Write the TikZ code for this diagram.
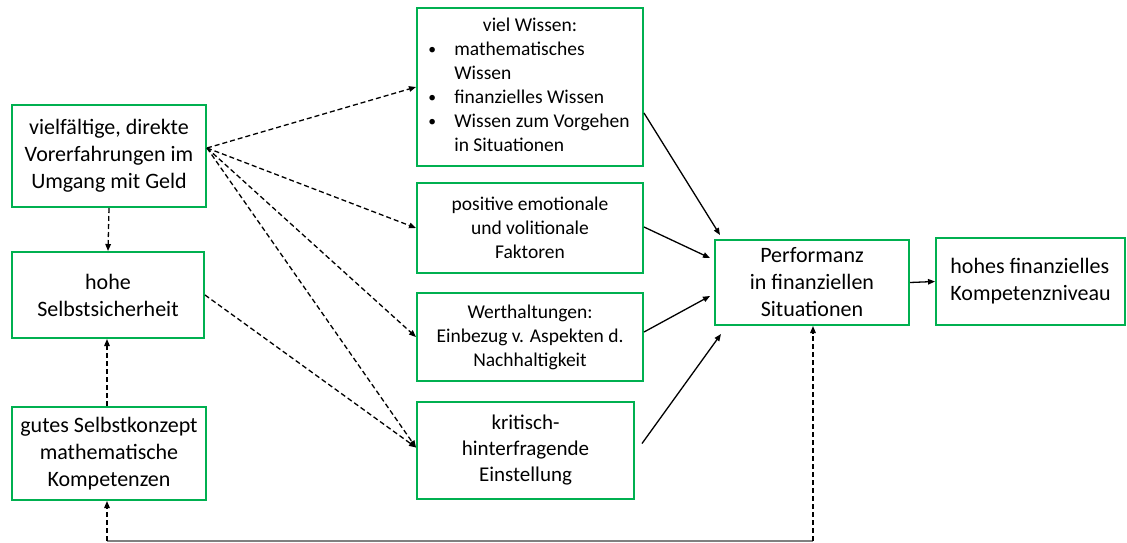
\documentclass[tikz,border=0pt]{standalone}
\usepackage{fontspec}
\setmainfont{Carlito}
\usetikzlibrary{arrows.meta}
\definecolor{boxgreen}{RGB}{0,176,80}
\definecolor{linegray}{RGB}{128,128,128}
\newcommand{\smbul}{\hspace*{-2pt}\raisebox{1pt}{\scalebox{0.8}{\textbullet}}}
\begin{document}
\begin{tikzpicture}[x=1pt,y=-1pt,
 box/.style={draw=boxgreen, line width=2pt, inner sep=0pt, align=center, text=black},
 big/.style={font=\fontsize{22}{27}\selectfont},
 mid/.style={font=\fontsize{21}{26}\selectfont},
 small/.style={font=\fontsize{19.5}{24}\selectfont},
 arr/.style={line width=1.3pt, -{Triangle[length=7pt,width=5.5pt]}},
 darr/.style={arr, dash pattern=on 5pt off 3pt},
]
\useasboundingbox (0,0) rectangle (1127,542);
\node[box,big,minimum width=194pt,minimum height=102pt] (A) at (109,156) {vielfältige, direkte\\Vorerfahrungen im\\Umgang mit Geld};
\node[box,big,minimum width=192pt,minimum height=86pt] (B) at (108,295) {hohe\\Selbstsicherheit};
\node[box,big,minimum width=194pt,minimum height=93pt] (C) at (109,453.5) {gutes Selbstkonzept\\mathematische\\Kompetenzen};
\node[box,small,minimum width=226pt,minimum height=158pt] (D) at (530,87) {\begin{tabular}{@{}p{24pt}@{}l@{}}\multicolumn{2}{@{}c@{}}{viel Wissen:}\\ \smbul & mathematisches\\ & Wissen\\ \smbul & finanzielles Wissen\\ \smbul & Wissen zum Vorgehen\\ & in Situationen\end{tabular}};
\node[box,small,minimum width=226pt,minimum height=90pt] (E) at (530,228) {positive emotionale\\und volitionale\\Faktoren};
\node[box,small,minimum width=226pt,minimum height=88pt] (F) at (530,337) {Werthaltungen:\\Einbezug v. Aspekten d.\\Nachhaltigkeit};
\node[box,mid,minimum width=217pt,minimum height=97pt] (G) at (525.5,450.5) {kritisch-\\hinterfragende\\Einstellung};
\node[box,big,minimum width=194pt,minimum height=85pt] (H) at (812,282.5) {Performanz\\in finanziellen\\Situationen};
\node[box,big,align=left,minimum width=189pt,minimum height=87pt] (I) at (1030.5,281.5) {hohes finanzielles\\Kompetenzniveau};
\coordinate (aout) at ([yshift=8pt]A.east);
\coordinate (bl) at (107,541);
\coordinate (br) at (813,541);
% dashed influences
\draw[darr] (aout) -- (D.west);
\draw[darr] (aout) -- (E.west);
\draw[darr] (aout) -- (F.west);
\draw[darr] (aout) -- ([yshift=3pt]G.west);
\draw[darr] (B.east) -- ([yshift=3pt]G.west);
\draw[darr] (A.south) -- (B.north);
\draw[darr] ([xshift=-2pt]C.north) -- ([xshift=-1pt]B.south);
% solid to performance
\draw[arr] ([yshift=-26pt]D.east) -- ([xshift=6pt,yshift=4pt]H.north west);
\draw[arr] ([yshift=1pt]E.east) -- ([xshift=-4pt,yshift=24.5pt]H.west);
\draw[arr] ([yshift=5pt]F.east) -- ([xshift=-4pt,yshift=-13.5pt]H.west);
\draw[arr] ([xshift=7pt,yshift=7pt]G.east) -- ([xshift=7pt,yshift=-8pt]H.south west);
\draw[arr] (H.east) -- (I.west);
% feedback loop
\draw[linegray, line width=1.5pt] (bl) -- (br);
\draw[darr] (bl) -- (bl |- C.south);
\draw[darr] (br) -- (br |- H.south);
\end{tikzpicture}
\end{document}
